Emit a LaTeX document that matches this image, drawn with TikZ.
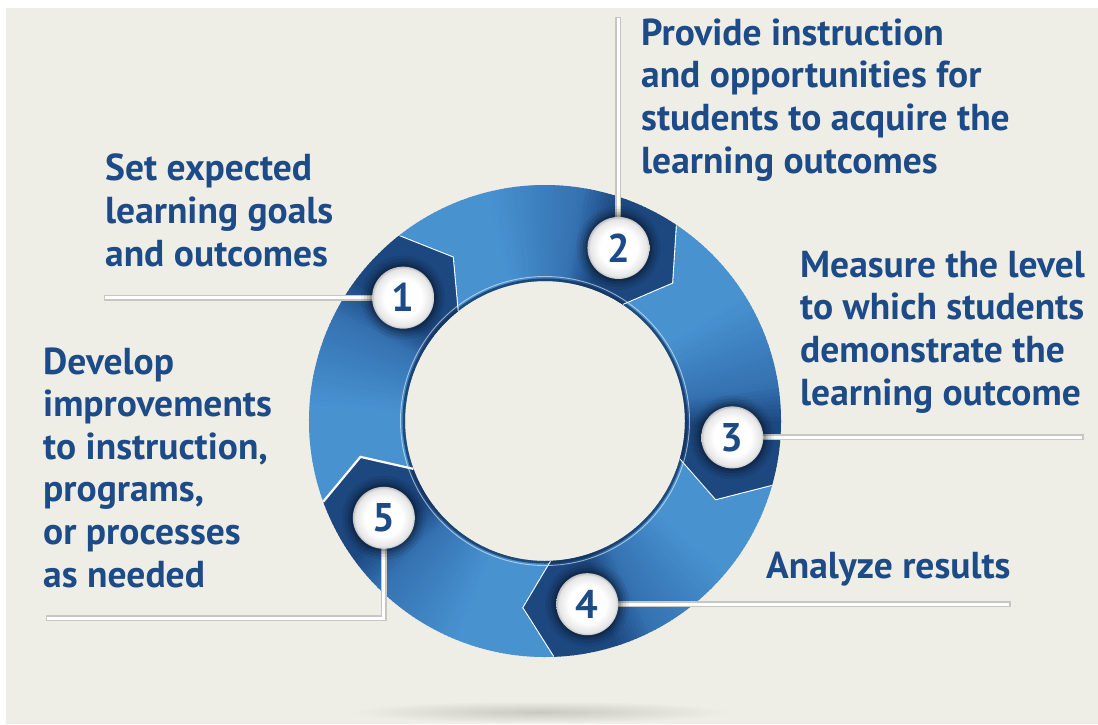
\documentclass[tikz,border=0pt]{standalone}
\usepackage{fontspec}
\setmainfont{PT Sans}
\usetikzlibrary{calc}

\definecolor{bgbeige}{HTML}{EFEEE6}
\definecolor{txtblue}{HTML}{1D4B87}
\definecolor{ringlight}{HTML}{4892D0}
\definecolor{ringmid}{HTML}{336EAE}
\definecolor{ringdark}{HTML}{1C477F}
\definecolor{leadgray}{HTML}{C6C6C2}

% badge face: white centre, soft grey rim
\pgfdeclareradialshading{badgeshade}{\pgfpoint{0bp}{0bp}}{%
  color(0bp)=(white); color(15bp)=(white); color(23bp)=(black!10);
  color(25bp)=(black!24); color(50bp)=(black!24)}

\tikzset{
  labeltext/.style={anchor=base west, align=left, inner sep=0pt, text=txtblue,
    font=\fontsize{37.5}{42.6}\selectfont\bfseries},
  leader/.style={draw=white, line width=3pt,
    preaction={draw=leadgray, line width=6pt, shorten <=-1.5pt}},
  badge/.style={circle, minimum size=62pt, inner sep=0pt, shade, shading=badgeshade,
    text=txtblue, font=\fontsize{40}{40}\selectfont\bfseries},
}

\begin{document}
\begin{tikzpicture}[x=1pt, y=1pt]
  \useasboundingbox (0,0) rectangle (1098,-724);
  \fill[white] (0,0) rectangle (1098,-724);
  \fill[bgbeige] (6,-8) rectangle (1098,-724);

  % soft shadow below the ring
  \shade[inner color=black!16!bgbeige, outer color=bgbeige] (540,-712) ellipse[x radius=190, y radius=11];

  \begin{scope}[shift={(545,-421)}]
    \def\Ro{236}\def\Ri{140}\def\Rm{188}
    % five arrow segments, each running clockwise into its numbered head
    \foreach \s/\e in {200/128, 128/56, 56/-16, -16/-88, -88/-160} {
      \begin{scope}
        \clip (\s:\Ro) arc[start angle=\s, end angle=\e, radius=\Ro]
          -- (\e-9:\Rm) -- (\e:\Ri) arc[start angle=\e, end angle=\s, radius=\Ri]
          -- (\s-9:\Rm) -- cycle;
        \foreach \j in {0,...,84} {
          \pgfmathsetmacro\a{\s+1-\j}
          \pgfmathsetmacro\t{(\j-1)/72}
          \pgfmathsetmacro\pa{min(100,max(0,(\t-0.32)/0.36*100))}
          \pgfmathsetmacro\pb{min(100,max(0,(\t-0.65)/0.13*100))}
          \colorlet{slc}{ringmid!\pa!ringlight}
          \colorlet{slc}{ringdark!\pb!slc}
          \fill[slc] (0,0) -- (\a:250) arc[start angle=\a, end angle=\a-1.3, radius=250] -- cycle;
        }
        % bevel along the inner rim
        \draw[ringdark!70!black, line width=5pt, opacity=0.75] (0,0) circle[radius=\Ri];
        \draw[white, opacity=0.55, line width=0.9pt] (0,0) circle[radius=\Ri+4.5];
      \end{scope}
      \draw[white, line width=2.2pt, line join=miter] (\e:\Ro) -- (\e-9:\Rm) -- (\e:\Ri);
    }
    \coordinate (p1) at (139:188);
    \coordinate (p2) at (67:188);
    \coordinate (p3) at (-5:188);
    \coordinate (p4) at (-77:188);
    \coordinate (p5) at (-149:188);
  \end{scope}

  % free ends of the leader lines
  \coordinate (l1) at (p1 -| 105,0);
  \coordinate (l2) at (p2 |- 0,-18);
  \coordinate (l3) at (p3 -| 1082,0);
  \coordinate (l4) at (p4 -| 1009,0);
  \coordinate (l5) at (47,-618);
  \coordinate (k5) at (p5 |- 0,-618);

  \draw[leader] (l1) -- (p1);
  \draw[leader] (l2) -- (p2);
  \draw[leader] (l3) -- (p3);
  \draw[leader] (l4) -- (p4);
  \draw[leader] (l5) -- (k5) -- (p5);

  % badges with a soft dark halo
  \foreach \k in {1,...,5} {
    \foreach \r/\o in {42/0.06, 39/0.09, 36/0.13, 33.5/0.18} {
      \fill[black, opacity=\o] (p\k) circle[radius=\r];
    }
  }
  \node[badge] (b1) at (p1) {1};
  \node[badge] (b2) at (p2) {2};
  \node[badge] (b3) at (p3) {3};
  \node[badge] (b4) at (p4) {4};
  \node[badge] (b5) at (p5) {5};

  % step captions (anchored at the baseline of their last line)
  \node[labeltext] (t1) at (105,-266) {Set expected\\learning goals\\and outcomes};
  \node[labeltext] (t2) at (641,-173) {Provide instruction\\and opportunities for\\students to acquire the\\learning outcomes};
  \node[labeltext] (t3) at (800,-405) {Measure the level\\to which students\\demonstrate the\\learning outcome};
  \node[labeltext] (t4) at (766,-578) {Analyze results};
  \node[labeltext] (t5) at (43,-587) {Develop\\improvements\\to instruction,\\programs,\\or processes\\as needed};
\end{tikzpicture}
\end{document}
